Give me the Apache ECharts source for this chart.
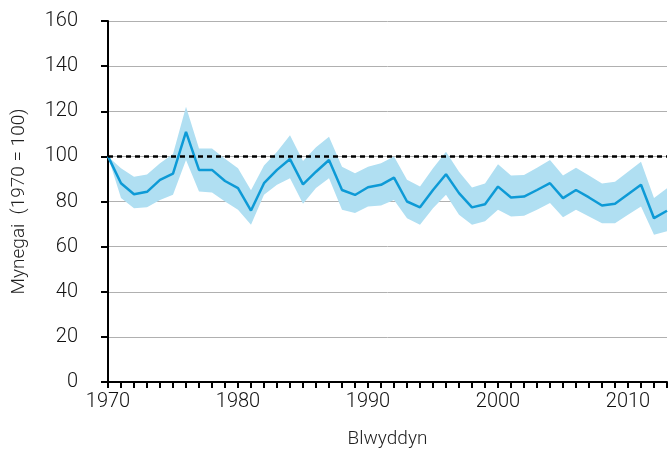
<!DOCTYPE html>
<html><head><meta charset="utf-8">
<script src="https://cdn.jsdelivr.net/npm/echarts@6/dist/echarts.min.js"></script>
<style>html,body{margin:0;padding:0;background:#fff}#c{width:670px;height:454px}</style>
</head><body><div id="c"></div>
<script>
const years = [];
for (let y = 1970; y <= 2013; y++) years.push(String(y));
const index = [100,88.1,83.2,84.3,89.6,92.4,110.9,94,94,89.1,85.9,76,88.1,94,98.8,87.6,93.2,98.4,85.1,82.9,86.3,87.4,90.6,80,77.4,85.1,92.1,83.7,77.4,78.8,86.6,81.8,82.2,85.1,88.1,81.5,85.1,81.8,78.2,79,83.2,87.4,72.6,75.9];
const upper = [100,94.7,91,92,97,101,122,103.5,103.5,99,94.7,85,96,102,109.4,98,104,108.7,95.4,92.5,95.4,97,99.9,89.6,86.6,94.7,102,93.2,86.2,88,96.5,91.5,91.8,95,98.4,91.5,95,91.5,88,88.8,93.2,97.6,81.5,85.9];
const lower = [100,81.5,77,77.4,80.7,83,98.4,84.4,84,80,76.3,69.7,83,87.4,90.3,79,86,90.3,76.3,74.9,77.8,78.2,80.7,72.6,69.7,77,83,74.1,69.7,71.2,76.3,73.4,73.7,76.3,79.3,73,76.3,73.4,70.4,70.4,74.1,77.8,65.3,66.8];
const yTicks = [0,20,40,60,80,100,120,140,160];
const baseline = 100;

const font = 'Roboto';
const chart = echarts.init(document.getElementById('c'), null, {renderer:'canvas'});
chart.setOption({
  animation:false,
  grid:{left:108,right:3,top:21,bottom:70,containLabel:false},
  xAxis:{
    type:'category', data:years, boundaryGap:false,
    name:'Blwyddyn', nameLocation:'middle', nameGap:48,
    nameTextStyle:{fontFamily:font,fontSize:19,color:'#222',fontWeight:300},
    axisLine:{lineStyle:{color:'#000',width:2}},
    axisTick:{interval:0,length:6,lineStyle:{color:'#000',width:2}},
    axisLabel:{interval:9,fontFamily:font,fontSize:20,color:'#111',fontWeight:300,margin:10},
    splitLine:{show:false}
  },
  yAxis:{
    type:'value', min:yTicks[0], max:yTicks[yTicks.length-1], interval:20,
    name:'Mynegai  (1970 = 100)', nameLocation:'middle', nameGap:79,
    nameTextStyle:{fontFamily:font,fontSize:19,color:'#222',fontWeight:300},
    axisLine:{show:true,lineStyle:{color:'#000',width:2}},
    axisTick:{show:true,length:7,lineStyle:{color:'#000',width:2}},
    axisLabel:{fontFamily:font,fontSize:20,color:'#111',fontWeight:300,margin:30},
    splitLine:{lineStyle:{color:'#b0b0b0',width:1}}
  },
  series:[
    {type:'line',data:lower,stack:'band',symbol:'none',lineStyle:{opacity:0},silent:true},
    {type:'line',data:upper.map((u,i)=>+(u-lower[i]).toFixed(2)),stack:'band',symbol:'none',
     lineStyle:{opacity:0},areaStyle:{color:'#b0dff2',opacity:1},silent:true},
    {type:'line',data:index,symbol:'none',lineStyle:{color:'#0d9ad6',width:2.5},
     markLine:{symbol:'none',silent:true,label:{show:false},
       lineStyle:{color:'#000',type:[5,4],width:2.5},data:[{yAxis:baseline}]}}
  ]
});
</script></body></html>
